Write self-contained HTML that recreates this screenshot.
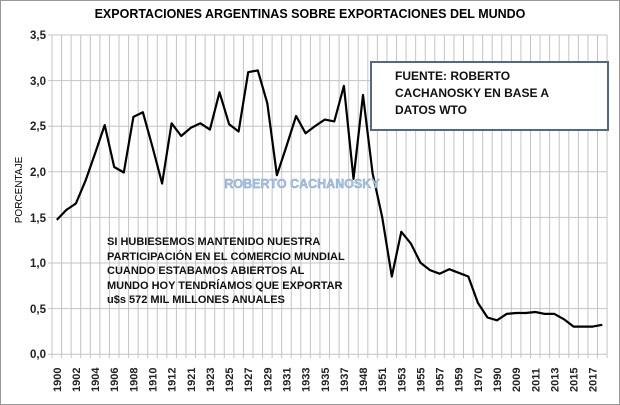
<!DOCTYPE html>
<html><head><meta charset="utf-8"><style>
body{margin:0;background:#fff}
svg{display:block;font-family:"Liberation Sans",sans-serif}
</style></head><body>
<svg width="620" height="405" viewBox="0 0 620 405">
<rect x="0.5" y="0.5" width="619" height="404" fill="#fff" stroke="#999"/>
<text x="310" y="18" text-anchor="middle" font-size="12.5" font-weight="bold">EXPORTACIONES ARGENTINAS SOBRE EXPORTACIONES DEL MUNDO</text>
<g id="grid" stroke="#c4c4c4" stroke-width="1"></g>
<g font-size="11.5" font-weight="bold" text-anchor="end" fill="#222">
<text x="46" y="39">3,5</text><text x="46" y="85">3,0</text><text x="46" y="130">2,5</text><text x="46" y="176">2,0</text><text x="46" y="222">1,5</text><text x="46" y="267">1,0</text><text x="46" y="313">0,5</text><text x="46" y="358">0,0</text>
</g>
<text transform="translate(22,190) rotate(-90)" text-anchor="middle" font-size="10">PORCENTAJE</text>
<g id="xl" font-size="11" font-weight="bold" fill="#222"></g>
<polyline id="ln" fill="none" stroke="#000" stroke-width="2.2" stroke-linejoin="round"/>
<rect x="371" y="62" width="237" height="68" fill="#fff" stroke="#50698a" stroke-width="2"/>
<g font-size="12" font-weight="bold" fill="#111"><text x="395" y="80">FUENTE: ROBERTO</text><text x="395" y="97">CACHANOSKY EN BASE A</text><text x="395" y="114">DATOS WTO</text></g>
<text x="302" y="188" text-anchor="middle" font-size="12.5" font-weight="bold" fill="#a9c4e6" stroke="#7f9fc9" stroke-width="0.4">ROBERTO CACHANOSKY</text>
<g font-size="11" font-weight="bold" fill="#111"><text x="107" y="245">SI HUBIESEMOS MANTENIDO NUESTRA</text><text x="107" y="260">PARTICIPACIÓN EN EL COMERCIO MUNDIAL</text><text x="107" y="274">CUANDO ESTABAMOS ABIERTOS AL</text><text x="107" y="289">MUNDO HOY TENDRÍAMOS QUE EXPORTAR</text><text x="107" y="303">u$s 572 MIL  MILLONES ANUALES</text></g>
</svg>
<script>
var ns="http://www.w3.org/2000/svg",g=document.getElementById('grid'),xl=document.getElementById('xl');
function ln(x1,y1,x2,y2){var l=document.createElementNS(ns,'line');l.setAttribute('x1',x1);l.setAttribute('y1',y1);l.setAttribute('x2',x2);l.setAttribute('y2',y2);g.appendChild(l);}
var w=9.57;
for(var k=0;k<=58;k++){var x=52+k*w;ln(x,35,x,358);}
for(var j=0;j<=7;j++){var y=35+j*45.6;ln(48,y,607,y);}
var v=[1.47,1.58,1.65,1.9,2.2,2.51,2.05,1.99,2.6,2.65,2.27,1.87,2.53,2.39,2.48,2.53,2.46,2.87,2.52,2.44,3.09,3.11,2.75,1.96,2.28,2.61,2.42,2.5,2.57,2.55,2.94,1.92,2.84,1.98,1.5,0.85,1.34,1.21,1.0,0.92,0.88,0.93,0.89,0.85,0.56,0.4,0.37,0.44,0.45,0.45,0.46,0.44,0.44,0.38,0.3,0.3,0.3,0.32];
var p=v.map(function(a,i){return (56.8+w*i).toFixed(1)+','+(354-a*91.2).toFixed(1)}).join(' ');
document.getElementById('ln').setAttribute('points',p);
var labs=[1900,1902,1904,1906,1908,1910,1912,1921,1923,1925,1927,1929,1931,1933,1935,1937,1948,1951,1953,1955,1957,1959,1970,1990,2009,2011,2013,2015,2017];
labs.forEach(function(l,i){var x=56.8+w*2*i+4;var t=document.createElementNS(ns,'text');t.setAttribute('transform','translate('+x+',392) rotate(-90)');t.textContent=l;xl.appendChild(t);});
</script>
</body></html>
